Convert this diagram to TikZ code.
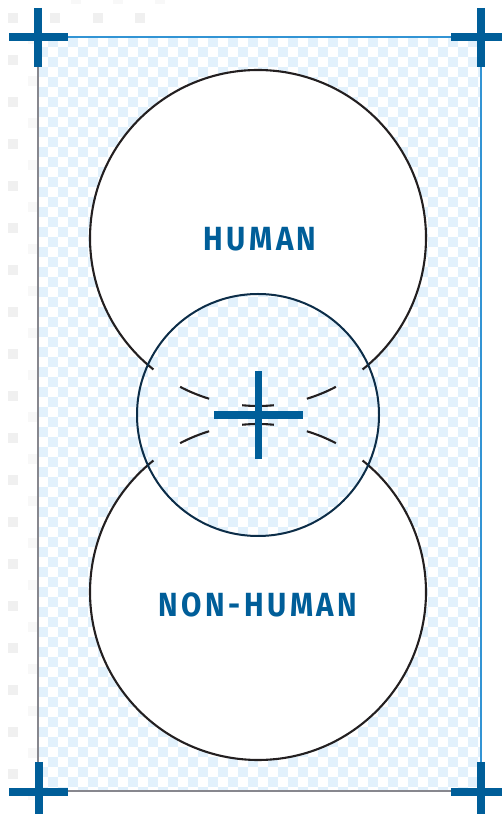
\documentclass[tikz,border=0pt]{standalone}
\usepackage{fontspec}
\newfontfamily\labfont{Fira Sans}[FakeStretch=0.88,LetterSpace=10.5]
\definecolor{chkblue}{RGB}{226,241,252}
\definecolor{markblue}{RGB}{0,94,153}
\definecolor{edgeblue}{RGB}{50,148,212}
\definecolor{edgegrey}{RGB}{135,135,142}
\definecolor{inkblack}{RGB}{35,31,32}
\definecolor{navy}{RGB}{12,45,72}
\definecolor{faintgrey}{RGB}{240,240,240}
\definecolor{faintergrey}{RGB}{248,248,248}
\newcommand{\chkfill}{%
  \fill[chkblue] (38,23) rectangle (481,777);
  \foreach \j in {0,...,76}{%
    \pgfmathtruncatemacro\off{mod(\j,2)}%
    \foreach \i in {0,...,22}{%
      \fill[white] ({38+10*(2*\i+\off)},{777-10*\j}) rectangle ++(10,-10);
    }%
  }%
}
\tikzset{
  markbar/.style={draw=markblue, line width=8pt},
  cbar/.style={draw=markblue, line width=7.5pt},
  bigring/.style={draw=inkblack, line width=2.1pt},
  ringdash/.style={draw=inkblack, line width=2.1pt},
  lab/.style={text=markblue, inner sep=0pt, font=\labfont\bfseries\fontsize{33.5}{33.5}\selectfont}
}
\begin{document}
\begin{tikzpicture}[x=1pt,y=1pt]
\useasboundingbox (0,0) rectangle (502,814);
\fill[white] (0,0) rectangle (502,814);
% faint squares outside the frame
\foreach \k in {0,...,18}{
  \fill[faintgrey] (8,{814-13-42*\k}) rectangle ++(10,-10);
  \fill[faintergrey] (28,{814-34-42*\k}) rectangle ++(9,-10);
}
\foreach \x in {50,93,135}{
  \fill[faintgrey] (\x,801) rectangle ++(10,-10);
}
\foreach \x in {71,113,155}{
  \fill[faintergrey] (\x,814) rectangle ++(10,-4);
}
% centres
\coordinate (T) at (258,576);
\coordinate (B) at (258,222);
\coordinate (M) at (258,399);
% checker background
\begin{scope}
  \clip (38,23) rectangle (481,777);
  \chkfill
\end{scope}
% big circles filled white
\fill[white] (T) circle[radius=168];
\fill[white] (B) circle[radius=168];
% middle circle shows the checker
\begin{scope}
  \clip (M) circle[radius=121];
  \chkfill
\end{scope}
% outlines of big circles
\draw[bigring] (T) ++(-51.5:168) arc[start angle=-51.5, end angle=231.5, radius=168];
\draw[bigring] (B) ++(128.5:168) arc[start angle=128.5, end angle=411.5, radius=168];
% dashed continuation inside the middle circle
\foreach \a/\b in {-117.6/-106.9,-95.4/-84.6,-73.1/-62.4}{
  \draw[ringdash] (T) ++(\a:168) arc[start angle=\a, end angle=\b, radius=168];
}
\foreach \a/\b in {62.4/73.1,84.6/95.4,106.9/117.6}{
  \draw[ringdash] (B) ++(\a:168) arc[start angle=\a, end angle=\b, radius=168];
}
% middle circle outline
\draw[navy, line width=2pt] (M) circle[radius=121];
% frame
\draw[edgegrey, line width=2.5pt] (38,777) -- (38,23) -- (481,23);
\draw[edgeblue, line width=2.3pt] (38,777) -- (481,777) -- (481,23);
% corner crosses
\draw[markbar] (9,777) -- (68,777);
\draw[markbar] (38,806) -- (38,747);
\draw[markbar] (451,777) -- (502,777);
\draw[markbar] (480.5,806) -- (480.5,747);
\draw[markbar] (9,22) -- (68,22);
\draw[markbar] (38.5,52) -- (38.5,0);
\draw[markbar] (451,22) -- (502,22);
\draw[markbar] (480.5,52) -- (480.5,0);
% centre cross
\draw[cbar] (258.5,355) -- (258.5,443);
\draw[cbar] (214,399) -- (303,399);
% labels
\node[lab] (human) at (260,574.5) {HUMAN};
\node[lab] (nonhuman) at (258,209.5) {NON-HUMAN};
\end{tikzpicture}
\end{document}
